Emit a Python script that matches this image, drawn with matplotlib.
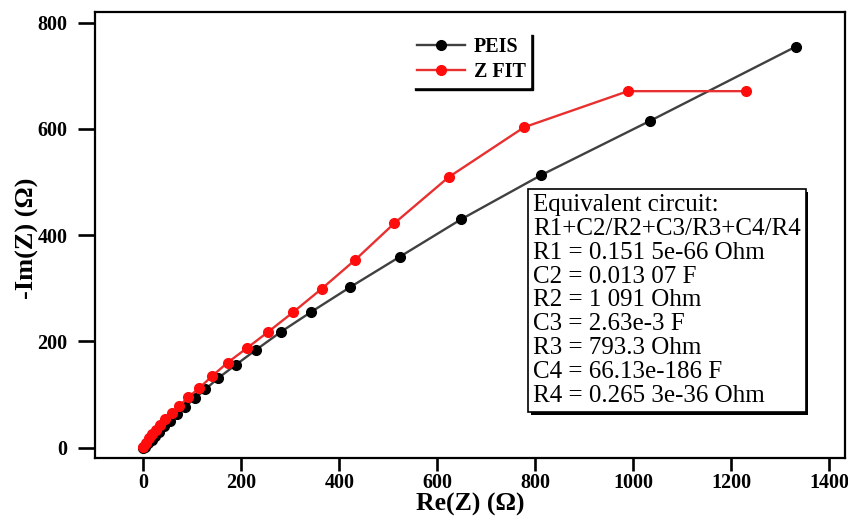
import matplotlib.pyplot as plt
import matplotlib.patheffects as pe
import numpy as np

plt.rcParams['font.family'] = ['Liberation Serif', 'DejaVu Serif']

# PEIS measured data (Re, -Im)
peis_re = [0, 3.5, 10, 17, 24, 33, 42, 54, 68, 85, 106, 127, 153, 189, 230, 281, 342, 422, 523, 649, 812, 1034, 1332]
peis_im = [0, 2, 8, 14, 22, 30, 40, 51, 63, 77, 93, 110, 131, 156, 184, 218, 255, 302, 359, 430, 513, 615, 755]

# Z FIT data
fit_re = [0, 5.5, 12, 18.5, 26, 34, 44, 58, 73, 92, 114, 141, 172, 211, 255, 306, 364, 432, 512, 623, 777, 989, 1230]
fit_im = [2, 9, 18, 25, 33, 43, 53, 65, 78, 95, 112, 135, 160, 187, 218, 255, 299, 353, 422, 509, 603, 671, 671]

circuit_text = ("Equivalent circuit:\n"
                "R1+C2/R2+C3/R3+C4/R4\n"
                "R1 = 0.151 5e-66 Ohm\n"
                "C2 = 0.013 07 F\n"
                "R2 = 1 091 Ohm\n"
                "C3 = 2.63e-3 F\n"
                "R3 = 793.3 Ohm\n"
                "C4 = 66.13e-186 F\n"
                "R4 = 0.265 3e-36 Ohm")

fig = plt.figure(figsize=(8.48, 5.17), dpi=100)
ax = fig.add_axes([0.1117, 0.1141, 0.8848, 0.8627])

ax.plot(peis_re, peis_im, color='#404040', lw=1.7, marker='o', ms=7,
        mfc='black', mec='black', label='PEIS', zorder=3)
ax.plot(fit_re, fit_im, color='#e83030', lw=1.7, marker='o', ms=7,
        mfc='#ff0d0d', mec='#ff0d0d', label='Z FIT', zorder=4)

ax.set_xlim(-99, 1432)
ax.set_ylim(-19.5, 820)
ax.set_xticks(np.arange(0, 1401, 200))
ax.set_yticks(np.arange(0, 801, 200))

for s in ax.spines.values():
    s.set_linewidth(1.6)
ax.tick_params(direction='out', width=1.9, labelsize=14.5)
ax.tick_params(axis='x', length=9, pad=2)
ax.tick_params(axis='y', length=12.5, pad=7)
for lab in ax.get_xticklabels() + ax.get_yticklabels():
    lab.set_fontweight('bold')

ax.set_xlabel('Re(Z) (Ω)', fontsize=18.5, fontweight='bold', va='bottom')
ax.set_ylabel('-Im(Z) (Ω)', fontsize=19, fontweight='bold', va='center')
ax.xaxis.set_label_coords(0.5, -0.131)
ax.yaxis.set_label_coords(-0.09, 0.493)

leg = ax.legend(loc='upper left', bbox_to_anchor=(0.423, 0.955),
                prop={'weight': 'bold', 'size': 14.5}, frameon=True, fancybox=False,
                shadow={'color': 'black', 'alpha': 1}, edgecolor='white',
                handlelength=2.4, handletextpad=0.4, borderpad=0.25,
                labelspacing=0.25, borderaxespad=0)

txt = ax.text(0.584, 0.592, circuit_text, transform=ax.transAxes, fontsize=18,
              va='top', ha='left', linespacing=1.11,
              bbox=dict(boxstyle='square,pad=0.2', fc='white', ec='black', lw=1.2))
txt.get_bbox_patch().set_path_effects([
    pe.SimplePatchShadow(offset=(2, -2), shadow_rgbFace='black', alpha=1),
    pe.Normal()])

fig.savefig('out.png', dpi=100)
